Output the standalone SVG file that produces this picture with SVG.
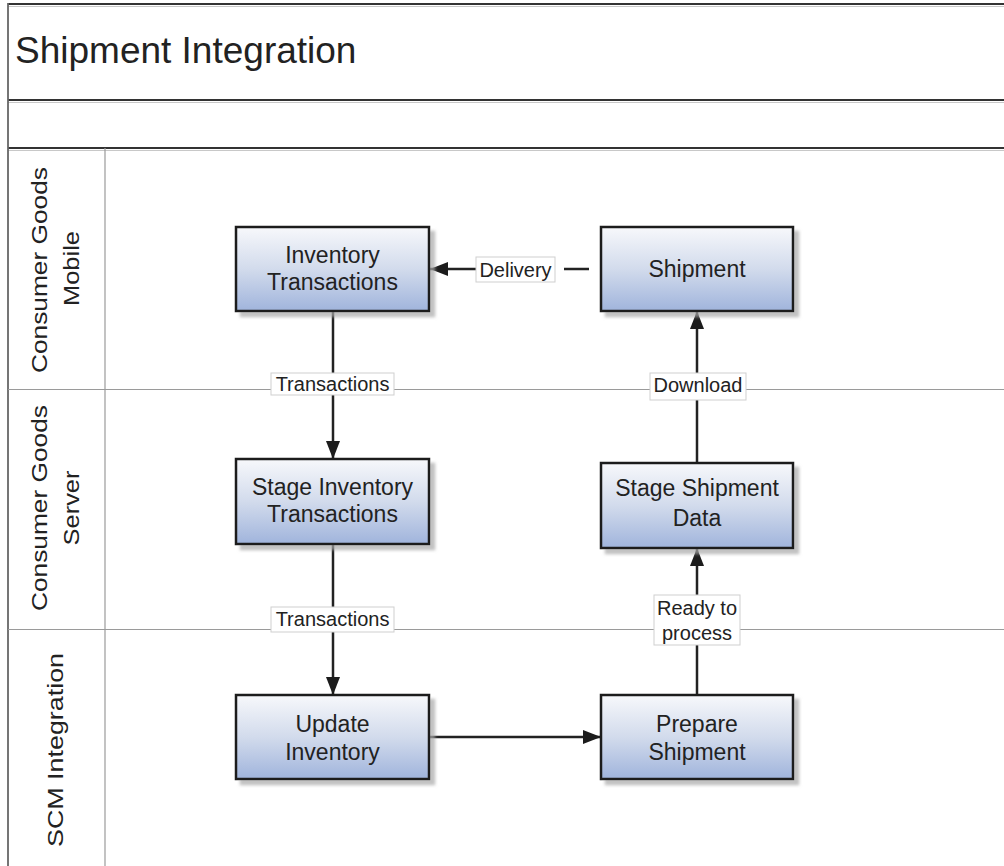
<svg xmlns="http://www.w3.org/2000/svg" width="1004" height="866" viewBox="0 0 1004 866">
  <defs>
    <linearGradient id="nodeFill" x1="0" y1="0" x2="0" y2="1">
      <stop offset="0" stop-color="#f7f8fb"/>
      <stop offset="0.5" stop-color="#d2dbec"/>
      <stop offset="1" stop-color="#a0b4dc"/>
    </linearGradient>
    <filter id="nodeShadow" x="-10%" y="-10%" width="125%" height="130%">
      <feDropShadow dx="5" dy="5" stdDeviation="1.5" flood-color="#a8a8a8" flood-opacity="0.7"/>
    </filter>
    <marker id="arrow" markerUnits="userSpaceOnUse" markerWidth="18" markerHeight="14" refX="18" refY="7" orient="auto">
      <path d="M0,0 L18,7 L0,14 z" fill="#1c1c1c"/>
    </marker>
  </defs>
  <style>
    text { font-family: "Liberation Sans", Arial, sans-serif; fill: #222; }
    .title { font-size: 37px; }
    .lane-label { font-size: 22px; text-anchor: middle; }
    .node rect { fill: url(#nodeFill); stroke: #1e1e1e; stroke-width: 2.5; filter: url(#nodeShadow); }
    .node text { font-size: 23px; text-anchor: middle; }
    .edge { fill: none; stroke: #222; stroke-width: 2.5; marker-end: url(#arrow); }
    .edge-label rect { fill: #fff; stroke: #cfcfcf; stroke-width: 1; }
    .edge-label rect.pad { stroke: none; }
    .edge-label text { font-size: 20px; text-anchor: middle; }
    .frame-dark { stroke: #333; stroke-width: 2; }
    .frame-soft { stroke: #c8c8c8; stroke-width: 1; }
    .lane-line { stroke: #9a9a9a; stroke-width: 1.2; }
  </style>

  <rect width="1004" height="866" fill="#fff"/>

  <!-- swimlane frame -->
  <g id="pool">
    <line class="frame-soft" x1="8" y1="6.5" x2="1004" y2="6.5"/>
    <line class="frame-dark" x1="8" y1="4" x2="1004" y2="4"/>
    <line class="frame-soft" x1="8" y1="102.5" x2="1004" y2="102.5"/>
    <line class="frame-dark" x1="8" y1="100" x2="1004" y2="100"/>
    <line class="frame-soft" x1="8" y1="150.5" x2="1004" y2="150.5"/>
    <line class="frame-dark" x1="8" y1="148" x2="1004" y2="148"/>
    <line x1="8" y1="3" x2="8" y2="866" stroke="#666" stroke-width="1.8"/>
    <line class="lane-line" x1="105" y1="148" x2="105" y2="866"/>
    <line class="lane-line" x1="8" y1="389.5" x2="1004" y2="389.5"/>
    <line class="lane-line" x1="8" y1="629.5" x2="1004" y2="629.5"/>
    <text class="title" x="15" y="63">Shipment Integration</text>
  </g>

  <g id="lane-mobile">
    <text class="lane-label" transform="translate(47,270) rotate(-90)" textLength="206" lengthAdjust="spacingAndGlyphs">Consumer Goods</text>
    <text class="lane-label" transform="translate(79,268.5) rotate(-90)" textLength="75" lengthAdjust="spacingAndGlyphs">Mobile</text>
  </g>
  <g id="lane-server">
    <text class="lane-label" transform="translate(47,508) rotate(-90)" textLength="206" lengthAdjust="spacingAndGlyphs">Consumer Goods</text>
    <text class="lane-label" transform="translate(79,508) rotate(-90)" textLength="75" lengthAdjust="spacingAndGlyphs">Server</text>
  </g>
  <g id="lane-scm">
    <text class="lane-label" transform="translate(63,750) rotate(-90)" textLength="194" lengthAdjust="spacingAndGlyphs">SCM Integration</text>
  </g>

  <!-- connectors -->
  <g id="connectors">
    <path class="edge" d="M333,311 L333,459"/>
    <path class="edge" d="M333,544 L333,695"/>
    <path class="edge" d="M430,737 L601,737"/>
    <path class="edge" d="M697,695 L697,548"/>
    <path class="edge" d="M697,463 L697,311"/>
    <path class="edge" d="M589,269 L430,269"/>

    <g class="edge-label">
      <rect class="pad" x="476" y="257" width="88" height="25"/>
      <rect x="476" y="257" width="79" height="25"/>
      <text x="515.5" y="277">Delivery</text>
    </g>
    <g class="edge-label">
      <rect x="271" y="373" width="123" height="22"/>
      <text x="332.5" y="391">Transactions</text>
    </g>
    <g class="edge-label">
      <rect x="271" y="607" width="123" height="25"/>
      <text x="332.5" y="626">Transactions</text>
    </g>
    <g class="edge-label">
      <rect x="650" y="373" width="96" height="27"/>
      <text x="698" y="392">Download</text>
    </g>
    <g class="edge-label">
      <rect x="654" y="595" width="86" height="50"/>
      <text x="697" y="615">Ready to</text>
      <text x="697" y="640">process</text>
    </g>
  </g>

  <!-- process steps -->
  <g id="inventory-transactions" class="node">
    <rect x="236" y="227" width="193" height="84"/>
    <text x="332.5" y="263">Inventory</text>
    <text x="332.5" y="290">Transactions</text>
  </g>
  <g id="shipment" class="node">
    <rect x="601" y="227" width="192" height="84"/>
    <text x="697" y="277">Shipment</text>
  </g>
  <g id="stage-inventory-transactions" class="node">
    <rect x="236" y="459" width="193" height="85"/>
    <text x="332.5" y="495">Stage Inventory</text>
    <text x="332.5" y="522">Transactions</text>
  </g>
  <g id="stage-shipment-data" class="node">
    <rect x="601" y="463" width="192" height="85"/>
    <text x="697" y="496">Stage Shipment</text>
    <text x="697" y="526">Data</text>
  </g>
  <g id="update-inventory" class="node">
    <rect x="236" y="695" width="193" height="84"/>
    <text x="332.5" y="732">Update</text>
    <text x="332.5" y="760">Inventory</text>
  </g>
  <g id="prepare-shipment" class="node">
    <rect x="601" y="695" width="192" height="84"/>
    <text x="697" y="732">Prepare</text>
    <text x="697" y="760">Shipment</text>
  </g>
</svg>
